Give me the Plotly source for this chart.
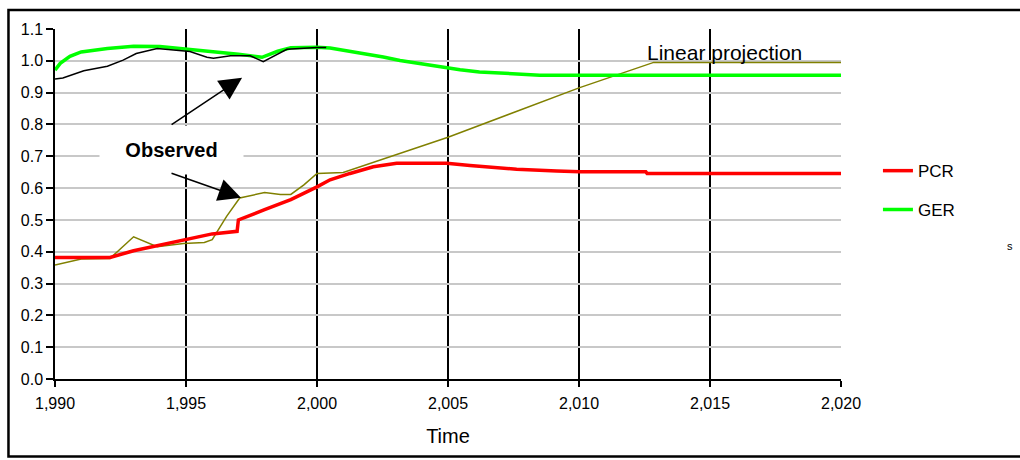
import plotly.graph_objects as go

# ---- data ----
ger_years = [1990, 1990.2, 1990.57, 1991, 1992, 1993, 1994, 1995, 1996, 1997, 1997.9,
             1998.5, 1999, 2000, 2000.5, 2001.26, 2001.9, 2002.53, 2003.17, 2003.8,
             2004.95, 2005.46, 2006.2, 2007, 2007.6, 2008.5, 2010, 2015, 2020]
ger_vals = [0.971, 0.992, 1.014, 1.028, 1.039, 1.046, 1.045, 1.037, 1.027, 1.021, 1.011,
            1.030, 1.041, 1.043, 1.040, 1.030, 1.021, 1.012, 1.001, 0.993,
            0.977, 0.972, 0.965, 0.962, 0.958, 0.955, 0.955, 0.955, 0.955]

pcr_years = [1990, 1992.1, 1993, 1994, 1995, 1996, 1996.95, 1997.0, 1998, 1999, 2000,
             2000.5, 2001.26, 2002.15, 2003.04, 2004.95, 2005.84, 2006.73, 2007.62,
             2009.15, 2010.04, 2012.55, 2012.6, 2020]
pcr_vals = [0.382, 0.382, 0.403, 0.421, 0.439, 0.456, 0.464, 0.500, 0.532, 0.564, 0.604,
            0.626, 0.646, 0.667, 0.678, 0.678, 0.671, 0.665, 0.659,
            0.654, 0.651, 0.651, 0.646, 0.646]

obs_ger_years = [1990, 1990.3, 1991.1, 1992, 1992.6, 1993.1, 1993.9, 1994.6, 1995.15,
                 1995.8, 1996.05, 1996.7, 1997.45, 1997.95, 1998.85, 2000, 2000.35]
obs_ger_vals = [0.943, 0.946, 0.969, 0.983, 1.002, 1.023, 1.039, 1.034, 1.029,
                1.011, 1.008, 1.016, 1.016, 0.997, 1.036, 1.042, 1.042]

obs_pcr_years = [1990, 1991, 1992.1, 1993, 1993.9, 1994.9, 1995.7, 1996.0, 1996.55,
                 1997.05, 1998, 1998.6, 1999.0, 1999.5, 2000, 2001, 2005, 2010,
                 2012.85, 2020]
obs_pcr_vals = [0.358, 0.377, 0.379, 0.447, 0.416, 0.426, 0.429, 0.438, 0.511,
                0.569, 0.586, 0.580, 0.580, 0.610, 0.646, 0.649, 0.760, 0.915,
                0.995, 0.995]

x_ticks = [1990, 1995, 2000, 2005, 2010, 2015, 2020]
y_ticks = [0.0, 0.1, 0.2, 0.3, 0.4, 0.5, 0.6, 0.7, 0.8, 0.9, 1.0, 1.1]

FONT = "Liberation Sans, Arial, sans-serif"

fig = go.Figure()
fig.add_trace(go.Scatter(x=obs_pcr_years, y=obs_pcr_vals, mode="lines",
                         line=dict(color="#808000", width=1.5),
                         name="Observed PCR", showlegend=False))
fig.add_trace(go.Scatter(x=ger_years, y=ger_vals, mode="lines",
                         line=dict(color="#00ff00", width=3.5),
                         name="GER", legend="legend2"))
fig.add_trace(go.Scatter(x=pcr_years, y=pcr_vals, mode="lines",
                         line=dict(color="#ff0000", width=3.5),
                         name="PCR", legend="legend"))
fig.add_trace(go.Scatter(x=obs_ger_years, y=obs_ger_vals, mode="lines",
                         line=dict(color="black", width=1.5),
                         name="Observed GER", showlegend=False))

fig.update_layout(
    width=1020, height=460,
    margin=dict(l=55, r=179, t=29, b=81, autoexpand=False),
    paper_bgcolor="white", plot_bgcolor="white",
    font=dict(family=FONT, color="black", size=16),
    xaxis=dict(range=[1990, 2020], tickvals=x_ticks, tickformat=",d",
               showgrid=True, gridcolor="black", gridwidth=1.5,
               showline=True, linecolor="black", linewidth=1.5,
               ticks="outside", ticklen=6, tickwidth=1.5, tickcolor="black",
               ticklabelstandoff=3,
               tickfont=dict(size=16), zeroline=False, automargin=False,
               title=dict(text="Time", font=dict(size=20), standoff=18)),
    yaxis=dict(range=[0, 1.1], tickvals=y_ticks, tickformat=".1f",
               showgrid=True, gridcolor="#c8c8c8", gridwidth=1.5,
               showline=True, linecolor="black", linewidth=1.5,
               ticks="outside", ticklen=7, tickwidth=1.5, tickcolor="black",
               tickfont=dict(size=16), zeroline=False, automargin=False),
    legend=dict(x=1.047, y=0.594, xanchor="left", yanchor="middle",
                font=dict(size=17), bgcolor="rgba(0,0,0,0)"),
    legend2=dict(x=1.047, y=0.483, xanchor="left", yanchor="middle",
                 font=dict(size=17), bgcolor="rgba(0,0,0,0)"),
)

annotations = [
    dict(text="<b>Observed</b>", xref="paper", yref="paper", x=0.1482, y=0.654,
         xanchor="center", yanchor="middle", showarrow=False, width=143, height=48,
         bgcolor="white", borderpad=0, font=dict(size=20)),
    dict(text="", x=1997.14, y=0.947, xref="x", yref="y", showarrow=True,
         ax=-72, ay=48, arrowhead=2, arrowsize=3, arrowwidth=1.5, arrowcolor="black",
         standoff=0),
    dict(text="", x=1997.10, y=0.570, xref="x", yref="y", showarrow=True,
         ax=-71, ay=-25, arrowhead=2, arrowsize=3, arrowwidth=1.5, arrowcolor="black",
         standoff=0),
    dict(text="Linear projection", xref="paper", yref="paper", x=0.752, y=0.934,
         xanchor="left", yanchor="middle", showarrow=False, borderpad=0,
         font=dict(size=21)),
    dict(text="s", xref="paper", yref="paper", x=1.215, y=0.38,
         xanchor="center", yanchor="middle", showarrow=False, font=dict(size=11)),
]
fig.update_layout(annotations=annotations)

fig.add_shape(type="rect", xref="paper", yref="paper",
              x0=-0.0592, x1=1.3, y0=-0.2214, y1=1.0543,
              line=dict(color="black", width=2.5), fillcolor="rgba(0,0,0,0)")

fig.write_html("out.html", config={"displayModeBar": False},
               post_script="document.body.style.margin='0';")
